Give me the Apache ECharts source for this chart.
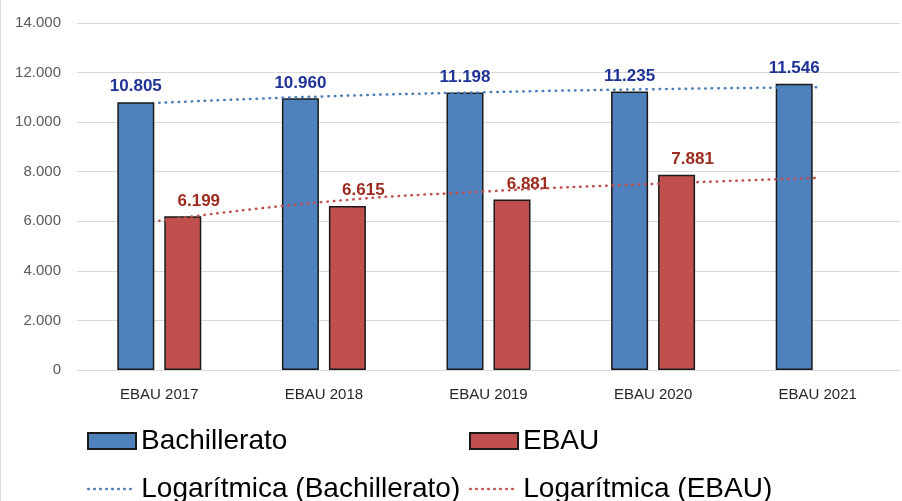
<!DOCTYPE html>
<html>
<head>
<meta charset="utf-8">
<script src="https://cdn.jsdelivr.net/npm/echarts@6/dist/echarts.min.js"></script>
<style>
  html, body { margin: 0; padding: 0; background: #fff; }
  #chart { width: 902px; height: 501px; }
</style>
</head>
<body>
<div id="chart"></div>
<script>
// datos
const categories = ['EBAU 2017', 'EBAU 2018', 'EBAU 2019', 'EBAU 2020', 'EBAU 2021'];
const bachillerato = [10805, 10960, 11198, 11235, 11546];
const ebau = [6199, 6615, 6881, 7881, null];
// líneas de tendencia logarítmica (valores estimados del dibujo)
const trendBach = [10780, 11040, 11210, 11330, 11410];
const trendEbau = [6020, 6780, 7210, 7510, 7750];
const yTicks = { min: 0, max: 14000, interval: 2000 };

const fmt = v => String(v).replace(/\B(?=(\d{3})+(?!\d))/g, '.');
const font = '"Liberation Sans", Arial, sans-serif';

const myChart = echarts.init(document.getElementById('chart'));

const legendBase = {
  orient: 'horizontal',
  padding: 0,
  itemWidth: 48,
  itemHeight: 16,
  itemGap: 7,
  textStyle: { fontSize: 28, color: '#000', fontFamily: font },
  selectedMode: false
};
// leyenda de las tendencias: solo la línea punteada, sin símbolo
const lineLegend = Object.assign({}, legendBase, {
  itemStyle: { color: 'transparent', borderColor: 'transparent', borderWidth: 0 },
  lineStyle: { width: 2.5, type: [0.5, 5.5], cap: 'round' }
});

const option = {
  animation: false,
  textStyle: { fontFamily: font },
  graphic: [
    { type: 'line', shape: { x1: 0.5, y1: 0, x2: 0.5, y2: 501 }, style: { stroke: '#d9d9d9', lineWidth: 1 } }
  ],
  grid: { left: 77, right: 2, top: 23, bottom: 131 },
  legend: [
    Object.assign({ data: ['Bachillerato'], left: 87, top: 427, icon: 'rect' }, legendBase),
    Object.assign({ data: ['EBAU'], left: 469, top: 427, icon: 'rect' }, legendBase),
    Object.assign({ data: ['Logarítmica (Bachillerato)'], left: 87, top: 475 }, lineLegend),
    Object.assign({ data: ['Logarítmica (EBAU)'], left: 469, top: 475 }, lineLegend)
  ],
  xAxis: {
    type: 'category',
    data: categories,
    axisLine: { lineStyle: { color: '#d9d9d9', width: 1 } },
    axisTick: { show: false },
    axisLabel: { color: '#262626', fontSize: 15, margin: 17 }
  },
  yAxis: {
    type: 'value',
    min: yTicks.min,
    max: yTicks.max,
    interval: yTicks.interval,
    axisLine: { show: false },
    axisTick: { show: false },
    splitLine: { lineStyle: { color: '#d9d9d9', width: 1 } },
    axisLabel: { color: '#595959', fontSize: 15, margin: 16, formatter: v => fmt(v) }
  },
  series: [
    {
      name: 'Bachillerato',
      type: 'bar',
      data: bachillerato,
      barWidth: 37,
      barGap: '27%',
      itemStyle: { color: '#4f81bd', borderColor: '#1a1a1a', borderWidth: 1.5 },
      label: {
        show: true, position: 'top', distance: 7,
        color: '#1f3396', fontSize: 17, fontWeight: 'bold',
        formatter: p => fmt(p.value)
      }
    },
    {
      name: 'EBAU',
      type: 'bar',
      data: ebau,
      barWidth: 37,
      itemStyle: { color: '#c0504d', borderColor: '#1a1a1a', borderWidth: 1.5 },
      label: {
        show: true, position: 'top', distance: 7, offset: [16, 0],
        color: '#9e2a1e', fontSize: 17, fontWeight: 'bold',
        formatter: p => fmt(p.value)
      }
    },
    {
      name: 'Logarítmica (Bachillerato)',
      type: 'line',
      data: trendBach,
      smooth: true,
      symbol: 'none',
      lineStyle: { color: '#4a7ebb', width: 2.5, type: [0.5, 6], cap: 'round' },
      itemStyle: { color: '#4a7ebb' },
      z: 5
    },
    {
      name: 'Logarítmica (EBAU)',
      type: 'line',
      data: trendEbau,
      smooth: true,
      symbol: 'none',
      lineStyle: { color: '#c0504d', width: 2.5, type: [0.5, 6], cap: 'round' },
      itemStyle: { color: '#c0504d' },
      z: 5
    }
  ]
};

myChart.setOption(option);
</script>
</body>
</html>
